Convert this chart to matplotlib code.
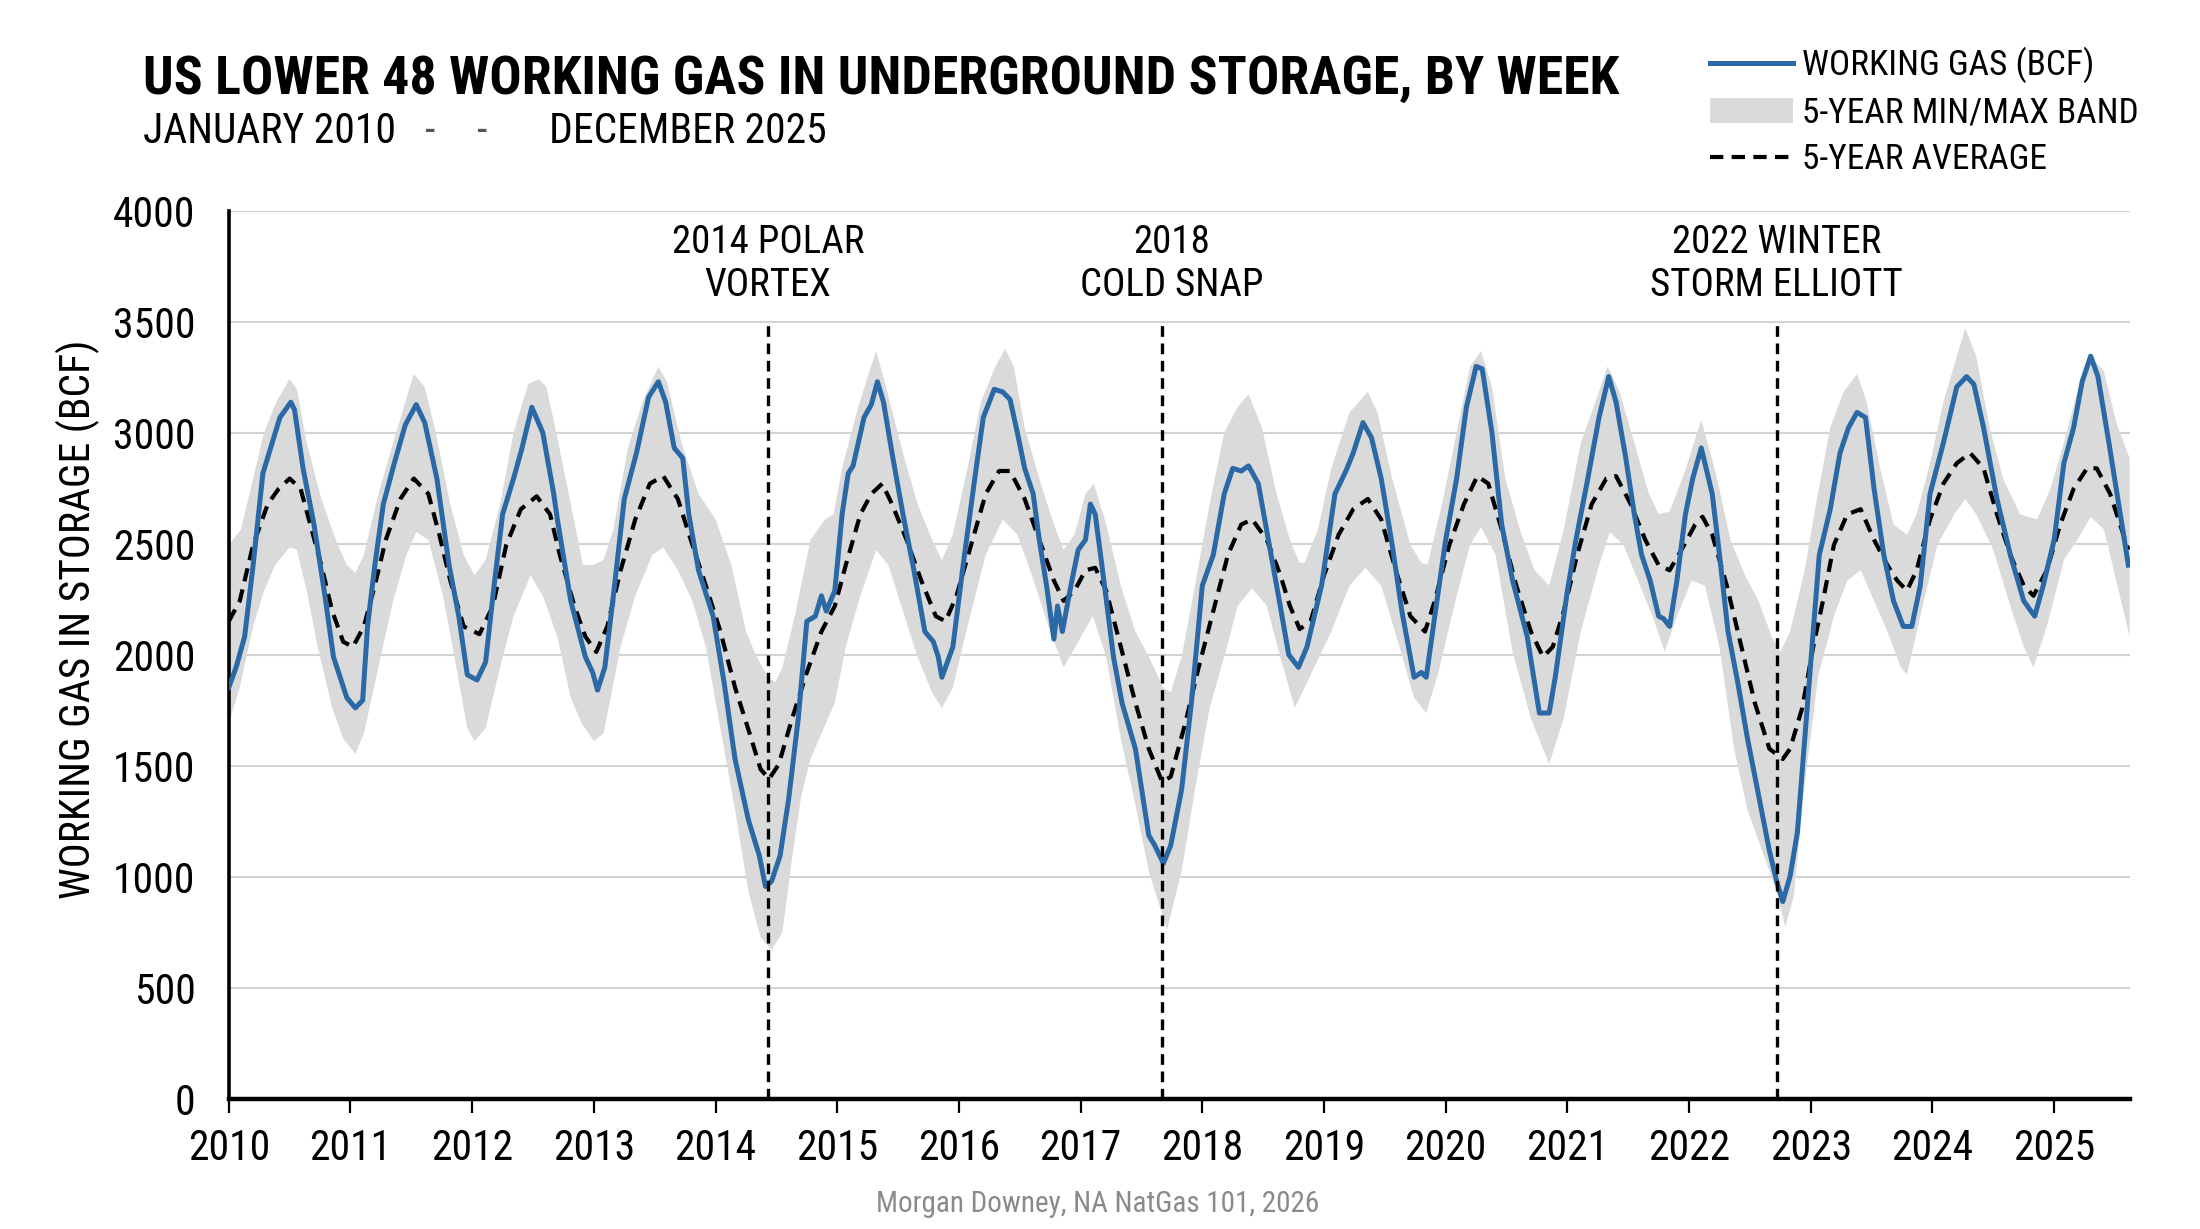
import matplotlib
matplotlib.use('Agg')
import matplotlib.pyplot as plt
import matplotlib.font_manager as fm
import numpy as np
from matplotlib.lines import Line2D
from matplotlib.patches import Patch


def pick_condensed():
    cond_words = ('condensed', 'narrow')
    prefs = ['Roboto Condensed', 'Roboto', 'Open Sans Condensed', 'Open Sans', 'Noto Sans',
             'DejaVu Sans Condensed', 'DejaVu Sans', 'Liberation Sans Narrow', 'Liberation Sans']
    for fam in prefs:
        for e in fm.fontManager.ttflist:
            if e.name != fam:
                continue
            st = str(e.stretch).lower()
            if any(w in st for w in cond_words) or any(w in e.name.lower() for w in cond_words):
                if 'condensed' in st:
                    return fam, 'condensed'
                return fam, 'normal'
            try:
                if float(st) < 500:
                    return fam, 'condensed'
            except ValueError:
                pass
    return 'Roboto', 'normal'


FAM, STRETCH = pick_condensed()
plt.rcParams['font.family'] = [FAM, 'Roboto', 'DejaVu Sans']
plt.rcParams['font.stretch'] = STRETCH

# ---------------- data ----------------
wg_t = [2010.00, 2010.06, 2010.13, 2010.20, 2010.28, 2010.35, 2010.42, 2010.51, 2010.54, 2010.61,
        2010.70, 2010.79, 2010.86, 2010.97, 2011.04, 2011.10, 2011.14, 2011.20, 2011.27, 2011.36,
        2011.45, 2011.54, 2011.61, 2011.71, 2011.81, 2011.89, 2011.96, 2012.04, 2012.11, 2012.18,
        2012.25, 2012.34, 2012.41, 2012.49, 2012.58, 2012.67, 2012.70, 2012.81, 2012.93, 2012.99,
        2013.03, 2013.09, 2013.16, 2013.25, 2013.35, 2013.45, 2013.53, 2013.59, 2013.66, 2013.73,
        2013.78, 2013.86, 2013.98, 2014.07, 2014.16, 2014.27, 2014.36, 2014.41, 2014.46, 2014.53,
        2014.60, 2014.68, 2014.75, 2014.82, 2014.87, 2014.91, 2014.98, 2015.04, 2015.09, 2015.13,
        2015.22, 2015.28, 2015.33, 2015.38, 2015.45, 2015.54, 2015.63, 2015.72, 2015.79, 2015.83,
        2015.86, 2015.95, 2016.04, 2016.13, 2016.20, 2016.29, 2016.36, 2016.42, 2016.48, 2016.54,
        2016.61, 2016.66, 2016.72, 2016.78, 2016.81, 2016.85, 2016.92, 2016.98, 2017.04, 2017.08,
        2017.12, 2017.18, 2017.27, 2017.34, 2017.45, 2017.56, 2017.61, 2017.68, 2017.74, 2017.83,
        2017.91, 2018.00, 2018.09, 2018.18, 2018.25, 2018.32, 2018.38, 2018.46, 2018.55, 2018.64,
        2018.71, 2018.79, 2018.86, 2018.98, 2019.09, 2019.18, 2019.24, 2019.32, 2019.39, 2019.47,
        2019.56, 2019.64, 2019.74, 2019.80, 2019.84, 2019.91, 2020.00, 2020.09, 2020.17, 2020.25,
        2020.30, 2020.38, 2020.46, 2020.55, 2020.67, 2020.77, 2020.85, 2020.90, 2021.00, 2021.07,
        2021.16, 2021.26, 2021.34, 2021.40, 2021.48, 2021.55, 2021.61, 2021.68, 2021.75, 2021.79,
        2021.84, 2021.90, 2021.97, 2022.03, 2022.10, 2022.15, 2022.19, 2022.25, 2022.32, 2022.40,
        2022.48, 2022.57, 2022.66, 2022.72, 2022.77, 2022.83, 2022.89, 2022.95, 2023.01, 2023.07,
        2023.16, 2023.24, 2023.31, 2023.38, 2023.45, 2023.52, 2023.60, 2023.68, 2023.76, 2023.83,
        2023.90, 2023.98, 2024.09, 2024.20, 2024.28, 2024.34, 2024.42, 2024.53, 2024.64, 2024.75,
        2024.84, 2024.91, 2025.00, 2025.08, 2025.16, 2025.23, 2025.30, 2025.36, 2025.45, 2025.53,
        2025.61]
wg_v = [1852, 1943, 2081, 2403, 2816, 2942, 3068, 3137, 3103, 2839,
        2586, 2265, 1990, 1806, 1760, 1794, 2127, 2403, 2678, 2862,
        3034, 3126, 3045, 2793, 2403, 2173, 1909, 1886, 1966, 2311,
        2632, 2793, 2931, 3114, 3000, 2724, 2609, 2242, 1990, 1920,
        1840, 1943, 2265, 2701, 2908, 3160, 3229, 3137, 2931, 2885,
        2632, 2380, 2173, 1875, 1530, 1255, 1094, 956, 979, 1094,
        1347, 1714, 2150, 2173, 2265, 2196, 2288, 2632, 2816, 2850,
        3068, 3126, 3229, 3137, 2908, 2632, 2380, 2104, 2058, 1990,
        1898, 2035, 2426, 2793, 3068, 3195, 3183, 3149, 3000, 2839,
        2724, 2517, 2311, 2070, 2219, 2104, 2311, 2472, 2517, 2678,
        2632, 2380, 1990, 1783, 1576, 1186, 1140, 1060, 1140, 1393,
        1783, 2311, 2449, 2724, 2839, 2827, 2850, 2770, 2494, 2220,
        2000, 1943, 2035, 2311, 2724, 2827, 2908, 3045, 2977, 2793,
        2494, 2196, 1898, 1920, 1898, 2173, 2517, 2793, 3114, 3298,
        3287, 3000, 2586, 2334, 2081, 1737, 1737, 1898, 2288, 2517,
        2770, 3068, 3252, 3137, 2885, 2632, 2449, 2334, 2173, 2162,
        2127, 2334, 2632, 2793, 2931, 2816, 2724, 2449, 2104, 1875,
        1622, 1370, 1117, 979, 888, 1002, 1200, 1620, 2035, 2449,
        2655, 2908, 3022, 3091, 3068, 2747, 2449, 2242, 2127, 2127,
        2311, 2724, 2954, 3206, 3252, 3218, 3022, 2701, 2449, 2242,
        2173, 2311, 2517, 2862, 3022, 3229, 3344, 3252, 2954, 2678,
        2403]

avg_t = [2010.00, 2010.09, 2010.20, 2010.32, 2010.41, 2010.50, 2010.59, 2010.67, 2010.76, 2010.85,
         2010.94, 2011.02, 2011.11, 2011.20, 2011.29, 2011.41, 2011.52, 2011.64, 2011.73, 2011.82,
         2011.93, 2012.06, 2012.17, 2012.28, 2012.40, 2012.53, 2012.64, 2012.72, 2012.84, 2012.93,
         2013.02, 2013.11, 2013.22, 2013.34, 2013.46, 2013.57, 2013.69, 2013.81, 2013.92, 2014.04,
         2014.16, 2014.28, 2014.37, 2014.44, 2014.52, 2014.63, 2014.75, 2014.87, 2014.98, 2015.07,
         2015.19, 2015.28, 2015.37, 2015.45, 2015.57, 2015.69, 2015.81, 2015.89, 2015.98, 2016.10,
         2016.22, 2016.33, 2016.42, 2016.54, 2016.66, 2016.78, 2016.86, 2016.95, 2017.04, 2017.12,
         2017.21, 2017.33, 2017.45, 2017.56, 2017.67, 2017.74, 2017.86, 2017.97, 2018.09, 2018.21,
         2018.32, 2018.41, 2018.53, 2018.64, 2018.72, 2018.80, 2018.89, 2019.00, 2019.12, 2019.24,
         2019.36, 2019.47, 2019.59, 2019.71, 2019.83, 2019.91, 2020.03, 2020.15, 2020.26, 2020.35,
         2020.46, 2020.58, 2020.70, 2020.80, 2020.88, 2020.97, 2021.08, 2021.20, 2021.32, 2021.40,
         2021.52, 2021.64, 2021.75, 2021.84, 2021.96, 2022.05, 2022.11, 2022.19, 2022.31, 2022.43,
         2022.54, 2022.66, 2022.77, 2022.83, 2022.93, 2023.02, 2023.10, 2023.19, 2023.30, 2023.41,
         2023.52, 2023.63, 2023.71, 2023.79, 2023.87, 2023.98, 2024.09, 2024.20, 2024.31, 2024.42,
         2024.53, 2024.64, 2024.75, 2024.83, 2024.94, 2025.05, 2025.16, 2025.27, 2025.35, 2025.46,
         2025.61]
avg_v = [2150, 2242, 2494, 2678, 2747, 2793, 2747, 2586, 2403, 2196,
         2058, 2035, 2127, 2311, 2517, 2701, 2793, 2724, 2540, 2334,
         2127, 2092, 2219, 2494, 2655, 2713, 2632, 2449, 2219, 2081,
         2012, 2127, 2380, 2609, 2770, 2804, 2701, 2494, 2311, 2104,
         1852, 1645, 1484, 1440, 1507, 1714, 1920, 2104, 2219, 2403,
         2632, 2724, 2770, 2678, 2517, 2334, 2173, 2150, 2265, 2494,
         2724, 2827, 2827, 2701, 2517, 2334, 2242, 2288, 2380, 2391,
         2288, 2035, 1783, 1576, 1427, 1450, 1691, 1943, 2196, 2449,
         2586, 2609, 2517, 2360, 2219, 2115, 2150, 2357, 2540, 2655,
         2701, 2609, 2380, 2173, 2104, 2242, 2494, 2678, 2804, 2770,
         2563, 2311, 2104, 1990, 2035, 2196, 2449, 2678, 2793, 2804,
         2678, 2517, 2403, 2380, 2494, 2586, 2621, 2540, 2311, 2035,
         1783, 1576, 1530, 1576, 1760, 2035, 2242, 2494, 2632, 2655,
         2517, 2403, 2334, 2288, 2380, 2609, 2770, 2862, 2908, 2839,
         2632, 2449, 2311, 2265, 2380, 2586, 2747, 2839, 2839, 2724,
         2472]

band_hi_t = [2010.00, 2010.10, 2010.20, 2010.29, 2010.39, 2010.50, 2010.56, 2010.64, 2010.76, 2010.88,
             2010.97, 2011.04, 2011.11, 2011.23, 2011.35, 2011.45, 2011.52, 2011.61, 2011.70, 2011.82,
             2011.93, 2012.02, 2012.11, 2012.23, 2012.34, 2012.46, 2012.55, 2012.61, 2012.70, 2012.81,
             2012.91, 2012.99, 2013.08, 2013.16, 2013.28, 2013.40, 2013.53, 2013.60, 2013.72, 2013.86,
             2014.00, 2014.13, 2014.25, 2014.33, 2014.43, 2014.49, 2014.55, 2014.66, 2014.78, 2014.90,
             2014.97, 2015.04, 2015.16, 2015.25, 2015.32, 2015.40, 2015.54, 2015.66, 2015.78, 2015.86,
             2015.95, 2016.07, 2016.18, 2016.30, 2016.38, 2016.45, 2016.54, 2016.66, 2016.78, 2016.86,
             2016.95, 2017.04, 2017.11, 2017.21, 2017.33, 2017.45, 2017.56, 2017.68, 2017.74, 2017.83,
             2017.94, 2018.06, 2018.18, 2018.29, 2018.38, 2018.49, 2018.61, 2018.73, 2018.80, 2018.84,
             2018.95, 2019.06, 2019.21, 2019.36, 2019.44, 2019.56, 2019.71, 2019.80, 2019.85, 2019.97,
             2020.09, 2020.20, 2020.29, 2020.38, 2020.49, 2020.61, 2020.73, 2020.85, 2020.97, 2021.11,
             2021.23, 2021.33, 2021.43, 2021.55, 2021.67, 2021.75, 2021.84, 2021.96, 2022.10, 2022.22,
             2022.34, 2022.46, 2022.57, 2022.68, 2022.75, 2022.83, 2022.95, 2023.05, 2023.16, 2023.27,
             2023.38, 2023.46, 2023.57, 2023.68, 2023.79, 2023.87, 2023.98, 2024.09, 2024.20, 2024.27,
             2024.36, 2024.47, 2024.58, 2024.72, 2024.86, 2024.97, 2025.08, 2025.19, 2025.30, 2025.41,
             2025.51, 2025.62]
band_hi_v = [2494, 2563, 2793, 3000, 3137, 3241, 3195, 2954, 2701, 2517,
             2403, 2368, 2449, 2724, 2954, 3137, 3264, 3206, 3000, 2678,
             2449, 2357, 2426, 2678, 3000, 3218, 3241, 3206, 2977, 2678,
             2403, 2403, 2426, 2563, 2931, 3137, 3298, 3229, 2954, 2724,
             2609, 2403, 2104, 2000, 1898, 1875, 1943, 2196, 2517, 2609,
             2632, 2839, 3091, 3252, 3367, 3206, 2908, 2678, 2517, 2426,
             2540, 2839, 3137, 3298, 3378, 3298, 3022, 2793, 2586, 2472,
             2540, 2724, 2770, 2586, 2311, 2104, 1990, 1852, 1829, 1990,
             2311, 2678, 3000, 3114, 3172, 3022, 2724, 2500, 2414, 2414,
             2563, 2839, 3091, 3183, 3091, 2793, 2494, 2414, 2403, 2678,
             3000, 3298, 3367, 3206, 2793, 2563, 2380, 2311, 2563, 2954,
             3137, 3298, 3183, 2954, 2724, 2632, 2644, 2816, 3057, 2816,
             2517, 2357, 2242, 2081, 2012, 2104, 2380, 2700, 3022, 3183,
             3264, 3137, 2839, 2586, 2540, 2632, 2862, 3137, 3344, 3470,
             3344, 3022, 2793, 2632, 2609, 2747, 2954, 3183, 3344, 3275,
             3045, 2885]

band_lo_t = [2010.00, 2010.09, 2010.20, 2010.29, 2010.38, 2010.50, 2010.56, 2010.64, 2010.73, 2010.85,
             2010.94, 2011.04, 2011.11, 2011.23, 2011.35, 2011.46, 2011.54, 2011.64, 2011.76, 2011.87,
             2011.96, 2012.02, 2012.11, 2012.23, 2012.34, 2012.48, 2012.58, 2012.70, 2012.81, 2012.90,
             2013.00, 2013.08, 2013.22, 2013.34, 2013.48, 2013.57, 2013.69, 2013.81, 2013.92, 2014.04,
             2014.16, 2014.27, 2014.37, 2014.46, 2014.55, 2014.62, 2014.70, 2014.78, 2014.88, 2014.98,
             2015.07, 2015.19, 2015.32, 2015.42, 2015.54, 2015.66, 2015.78, 2015.86, 2015.95, 2016.07,
             2016.22, 2016.36, 2016.48, 2016.60, 2016.75, 2016.86, 2016.98, 2017.10, 2017.21, 2017.33,
             2017.45, 2017.56, 2017.71, 2017.83, 2017.94, 2018.06, 2018.18, 2018.29, 2018.41, 2018.53,
             2018.64, 2018.76, 2018.92, 2019.06, 2019.21, 2019.34, 2019.47, 2019.62, 2019.74, 2019.84,
             2019.94, 2020.09, 2020.20, 2020.29, 2020.41, 2020.55, 2020.70, 2020.85, 2020.97, 2021.11,
             2021.26, 2021.35, 2021.46, 2021.58, 2021.70, 2021.80, 2021.90, 2022.02, 2022.13, 2022.25,
             2022.37, 2022.48, 2022.60, 2022.72, 2022.79, 2022.86, 2022.95, 2023.06, 2023.19, 2023.30,
             2023.41, 2023.52, 2023.63, 2023.74, 2023.79, 2023.90, 2024.04, 2024.18, 2024.27, 2024.36,
             2024.50, 2024.64, 2024.75, 2024.83, 2024.94, 2025.08, 2025.19, 2025.30, 2025.41, 2025.51,
             2025.62]
band_lo_v = [1691, 1852, 2127, 2288, 2403, 2483, 2472, 2288, 2035, 1760,
             1622, 1553, 1645, 1943, 2242, 2449, 2552, 2517, 2265, 1943,
             1668, 1611, 1668, 1943, 2173, 2357, 2265, 2081, 1806, 1691,
             1611, 1645, 2035, 2265, 2449, 2483, 2380, 2242, 2035, 1668,
             1301, 933, 727, 670, 750, 1050, 1350, 1530, 1657, 1783,
             2035, 2265, 2472, 2403, 2196, 1990, 1829, 1760, 1852, 2127,
             2449, 2609, 2540, 2357, 2104, 1943, 2058, 2173, 1990, 1622,
             1324, 1025, 761, 1025, 1393, 1760, 1990, 2219, 2299, 2219,
             1990, 1760, 1943, 2104, 2311, 2391, 2311, 2035, 1806, 1737,
             1920, 2265, 2494, 2575, 2449, 2012, 1714, 1507, 1714, 2104,
             2403, 2552, 2494, 2334, 2173, 2012, 2173, 2334, 2311, 2035,
             1576, 1301, 1117, 933, 773, 911, 1416, 1900, 2173, 2334,
             2380, 2242, 2104, 1943, 1909, 2173, 2494, 2632, 2701, 2632,
             2472, 2219, 2035, 1943, 2127, 2426, 2517, 2621, 2563, 2334,
             2081]

event_x = [2014.43, 2017.67, 2022.72]
event_text_x = [2014.43, 2017.75, 2022.72]
event_labels = ['2014 POLAR\nVORTEX', '2018\nCOLD SNAP', '2022 WINTER\nSTORM ELLIOTT']
event_top = 3500

years = list(range(2010, 2026))
y_ticks = list(range(0, 4001, 500))

title = 'US LOWER 48 WORKING GAS IN UNDERGROUND STORAGE, BY WEEK'
legend_labels = ['WORKING GAS (BCF)', '5-YEAR MIN/MAX BAND', '5-YEAR AVERAGE']

BLUE = '#2b69a6'
BAND = '#dadada'

# ---------------- figure ----------------
fig = plt.figure(figsize=(22, 12.29), dpi=100)
ax = fig.add_axes([0.104, 0.106, 0.864, 0.7227])
ax.set_xlim(2010, 2025.62)
ax.set_ylim(0, 4000)

ax.fill(np.r_[band_hi_t, band_lo_t[::-1]], np.r_[band_hi_v, band_lo_v[::-1]],
        color=BAND, lw=0, zorder=1)
ax.plot(avg_t, avg_v, color='black', lw=3.0, dashes=(3.2, 2.0), zorder=3)
ax.plot(wg_t, wg_v, color=BLUE, lw=3.6, zorder=4, solid_joinstyle='round')

for x in event_x:
    ax.plot([x, x], [0, event_top], color='black', lw=2.4, dashes=(3.2, 2.0), zorder=5)
for x, lab in zip(event_text_x, event_labels):
    ax.text(x, 3760, lab, ha='center', va='center', fontsize=28, linespacing=1.2, zorder=6)

ax.set_yticks(y_ticks)
ax.set_xticks(years)
ax.set_xticklabels([str(y) for y in years])
ax.yaxis.grid(True, color='#d3d3d3', lw=1.5, zorder=0)
ax.set_axisbelow(True)
for s in ['top', 'right']:
    ax.spines[s].set_visible(False)
ax.spines['left'].set_linewidth(2.6)
ax.spines['bottom'].set_linewidth(3.2)
ax.tick_params(axis='y', length=0, pad=24, labelsize=30)
ax.tick_params(axis='x', length=10, width=1.6, direction='out', pad=11, labelsize=30)
ax.set_ylabel('WORKING GAS IN STORAGE (BCF)', fontsize=30)
ax.yaxis.set_label_coords(-0.068, 0.54)

# titles
t = fig.text(0.065, 0.9235, title, fontsize=42, fontweight='bold', ha='left', va='baseline')
fig.canvas.draw()
w = t.get_window_extent().width
target = 1478.0
t.set_fontsize(42 * target / w)
fig.text(0.065, 0.8836, 'JANUARY 2010', fontsize=30, ha='left', va='baseline')
fig.text(0.193, 0.8836, '-', fontsize=30, ha='left', va='baseline', color='#555555')
fig.text(0.217, 0.8836, '-', fontsize=30, ha='left', va='baseline', color='#555555')
fig.text(0.2495, 0.8836, 'DECEMBER 2025', fontsize=30, ha='left', va='baseline')

# legend
handles = [Line2D([0], [0], color=BLUE, lw=3.6),
           Patch(facecolor=BAND, edgecolor='none'),
           Line2D([0], [0], color='black', lw=3.0, dashes=(3.2, 2.0))]
fig.legend(handles, legend_labels, loc='upper right', bbox_to_anchor=(0.972, 0.962),
           frameon=False, fontsize=25.5, handlelength=2.35, handletextpad=0.25,
           labelspacing=0.38, borderpad=0, borderaxespad=0)

fig.text(0.499, 0.0203, 'Morgan Downey, NA NatGas 101, 2026', fontsize=21,
         color='#8a8a8a', ha='center', va='center')

fig.savefig('out.png', dpi=100)
